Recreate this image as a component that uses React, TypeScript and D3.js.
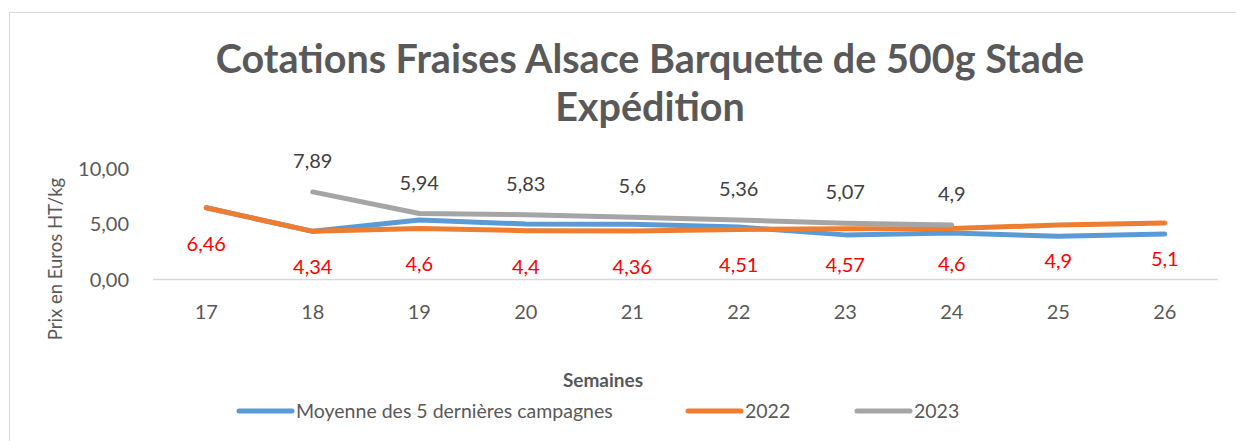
import React from 'react';
import * as d3 from 'd3';

const weeks = ['17', '18', '19', '20', '21', '22', '23', '24', '25', '26'];
const moyenne = [6.46, 4.34, 5.36, 5.0, 4.98, 4.72, 4.02, 4.18, 3.9, 4.1];
const y2022 = [6.46, 4.34, 4.6, 4.4, 4.36, 4.51, 4.57, 4.6, 4.9, 5.1];
const y2023 = [null, 7.89, 5.94, 5.83, 5.6, 5.36, 5.07, 4.9, null, null];
const yTicks = [0, 5, 10];

const BLUE = '#5B9BD5';
const ORANGE = '#ED7D31';
const GREY = '#A5A5A5';
const TEXT = '#595959';
const FONT = 'Lato, "Open Sans", sans-serif';

const fr = (v: number) => String(v).replace('.', ',');
const frTick = (v: number) => v.toFixed(2).replace('.', ',');

const App = () => {
    const width = 1236;
    const height = 441;

    const x = d3.scaleBand<string>().domain(weeks).range([153, 1218]);
    const cx = (w: string) => (x(w) as number) + x.bandwidth() / 2;
    const y = d3.scaleLinear().domain([0, 10]).range([279.5, 168.5]);

    const line = d3.line<number | null>()
        .defined(d => d !== null)
        .x((_, i) => cx(weeks[i]))
        .y(d => y(d as number));

    const series = [
        { name: 'Moyenne des 5 dernières campagnes', values: moyenne, color: BLUE },
        { name: '2022', values: y2022, color: ORANGE },
        { name: '2023', values: y2023, color: GREY },
    ];

    const legendPos = [237, 686, 855];

    return (
        <svg width={width} height={height} style={{ position: 'absolute', left: 0, top: 0 }} fontFamily={FONT}>
            <rect x={0} y={0} width={width} height={height} fill="#fff" />
            <rect x={9.5} y={12.5} width={width} height={height} fill="none" stroke="#D9D9D9" />

            <text x={650} y={73} textAnchor="middle" fontSize={39.5} fontWeight="bold" fill={TEXT}>
                Cotations Fraises Alsace Barquette de 500g Stade
            </text>
            <text x={650} y={121} textAnchor="middle" fontSize={39.5} fontWeight="bold" fill={TEXT}>
                Expédition
            </text>

            {/* axe des x */}
            <line x1={153} x2={1218} y1={y(0)} y2={y(0)} stroke="#D9D9D9" strokeWidth={1.5} />
            {yTicks.map(t => (
                <text key={t} x={129} y={y(t)} dy="0.35em" textAnchor="end" fontSize={20} fill={TEXT}>
                    {frTick(t)}
                </text>
            ))}
            {weeks.map(w => (
                <text key={w} x={cx(w)} y={312} dy="0.35em" textAnchor="middle" fontSize={20} fill={TEXT}>
                    {w}
                </text>
            ))}

            <text transform="translate(56,259) rotate(-90)" textAnchor="middle" dy="0.35em" fontSize={18.5} fill={TEXT}>
                Prix en Euros HT/kg
            </text>
            <text x={603} y={380} dy="0.35em" textAnchor="middle" fontSize={19} fontWeight="bold" fill={TEXT}>
                Semaines
            </text>

            {series.map(s => (
                <path key={s.name} d={line(s.values) || ''} fill="none" stroke={s.color}
                    strokeWidth={5} strokeLinecap="round" strokeLinejoin="round" />
            ))}

            {/* étiquettes 2022 sous la courbe */}
            {y2022.map((v, i) => (
                <text key={'o' + i} x={cx(weeks[i])} y={y(v) + 36} dy="0.35em" textAnchor="middle" fontSize={20} fill="#FF0000">
                    {fr(v)}
                </text>
            ))}
            {/* étiquettes 2023 au-dessus */}
            {y2023.map((v, i) => v === null ? null : (
                <text key={'g' + i} x={cx(weeks[i])} y={y(v) - 31} dy="0.35em" textAnchor="middle" fontSize={20} fill="#404040">
                    {fr(v)}
                </text>
            ))}

            {series.map((s, i) => (
                <g key={'l' + i} transform={`translate(${legendPos[i]},411)`}>
                    <line x1={2} x2={55} y1={0} y2={0} stroke={s.color} strokeWidth={5} strokeLinecap="round" />
                    <text x={59} y={0} dy="0.35em" fontSize={19.5} fill={TEXT}>{s.name}</text>
                </g>
            ))}
        </svg>
    );
};

export default App;
